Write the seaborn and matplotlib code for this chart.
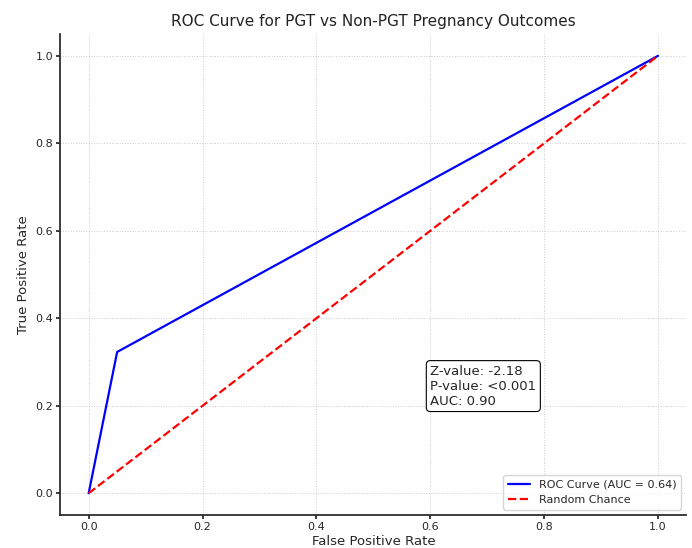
import matplotlib
matplotlib.use("Agg")
import matplotlib.pyplot as plt
import seaborn as sns
import pandas as pd

fpr = [0.0, 0.05, 1.0]
tpr = [0.0, 0.323, 1.0]
chance = [0.0, 1.0]
title = "ROC Curve for PGT vs Non-PGT Pregnancy Outcomes"
roc_label = "ROC Curve (AUC = 0.64)"
chance_label = "Random Chance"
stats_text = "Z-value: -2.18\nP-value: <0.001\nAUC: 0.90"

sns.set_theme(style="ticks")
plt.rcParams['font.family'] = ['DejaVu Sans']

fig, ax = plt.subplots(figsize=(6.92, 5.48), dpi=100)
roc = pd.DataFrame({"fpr": fpr, "tpr": tpr})
sns.lineplot(data=roc, x="fpr", y="tpr", ax=ax, color="blue", lw=1.6,
             label=roc_label, estimator=None, sort=False)
ch = pd.DataFrame({"x": chance, "y": chance})
sns.lineplot(data=ch, x="x", y="y", ax=ax, color="red", lw=1.6,
             linestyle="--", label=chance_label, estimator=None)

ax.set_xlim(-0.05, 1.05)
ax.set_ylim(-0.05, 1.05)
ax.set_xticks([0, 0.2, 0.4, 0.6, 0.8, 1.0])
ax.set_yticks([0, 0.2, 0.4, 0.6, 0.8, 1.0])
ax.grid(True, linestyle=":", color="#cccccc", lw=0.7)
sns.despine(ax=ax)
ax.set_title(title, fontsize=11, color="#222222")
ax.set_xlabel("False Positive Rate", fontsize=9.5, labelpad=2)
ax.set_ylabel("True Positive Rate", fontsize=9.5, labelpad=4)
ax.tick_params(labelsize=8, length=3, pad=2)

ax.text(0.6, 0.245, stats_text, fontsize=9.5, va="center", ha="left",
        bbox=dict(boxstyle="round,pad=0.3", fc="white", ec="black", lw=0.8))
ax.legend(loc="lower right", fontsize=8, frameon=True)

fig.subplots_adjust(left=0.087, right=0.992, top=0.938, bottom=0.06)
fig.savefig("out.png", dpi=100)
